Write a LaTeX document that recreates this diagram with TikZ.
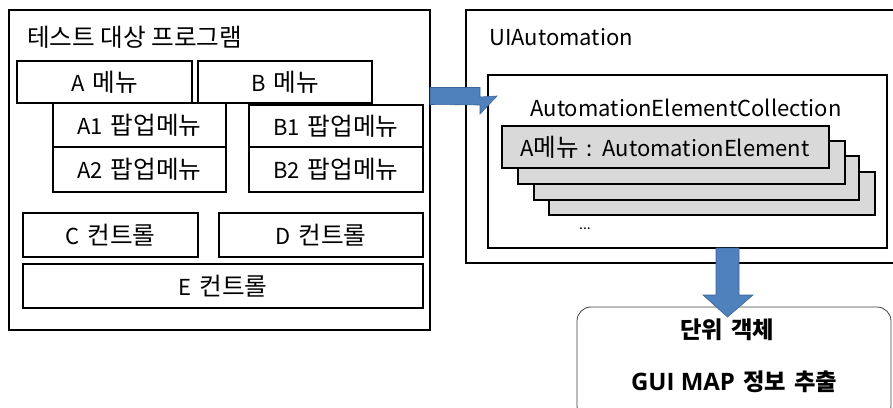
\documentclass[tikz,border=0pt]{standalone}
\usepackage{fontspec}
\setmainfont[WordSpace=1.6]{Noto Sans CJK KR}
\newfontfamily\kr[Scale=1.12]{Noto Sans CJK KR}
\newfontfamily\krb[Scale=1.06,WordSpace=1.5]{Noto Sans CJK KR}
\newfontfamily\latinbold{Open Sans}
\definecolor{arrowfill}{HTML}{4F81BD}
\definecolor{arrowline}{HTML}{3A6496}
\definecolor{stackgray}{HTML}{D9D9D9}
\tikzset{
  box/.style={draw=black, line width=1.6pt, fill=white},
  lbl/.style={font=\fontsize{22}{24}\selectfont, inner sep=0pt},
  bold/.style={font=\fontsize{22}{24}\selectfont\bfseries, inner sep=0pt},
  fatarrow/.style={fill=arrowfill, draw=arrowline, line width=0.6pt, line join=miter}
}
\begin{document}
\begin{tikzpicture}[x=1pt,y=-1pt]
\useasboundingbox (0,0) rectangle (893,407);
% left program box
\draw[box] (9,10) rectangle (430,330);
\coordinate (leftE) at (430,96);
\node[lbl, anchor=west] (title) at (27,37) {\kr 테스트 대상 프로그램};
\draw[box] (17,61) rectangle (192,103); \node[lbl] (amenu) at (104.5,82) {A {\kr 메뉴}};
\draw[box] (198,61) rectangle (372,103); \node[lbl] (bmenu) at (285,82) {B {\kr 메뉴}};
\draw[box] (53,103) rectangle (226,147); \node[lbl] (a1) at (139.5,125) {A1 {\kr 팝업메뉴}};
\draw[box] (53,147) rectangle (226,192); \node[lbl] (a2) at (139.5,169.5) {A2 {\kr 팝업메뉴}};
\draw[box] (249,105) rectangle (423,147); \node[lbl] (b1) at (336,126) {B1 {\kr 팝업메뉴}};
\draw[box] (249,147) rectangle (423,192); \node[lbl] (b2) at (336,169.5) {B2 {\kr 팝업메뉴}};
\draw[box] (23,213) rectangle (198,257); \node[lbl] (c) at (110.5,235) {C {\kr 컨트롤}};
\draw[box] (219,213) rectangle (423,257); \node[lbl] (d) at (321,235) {D {\kr 컨트롤}};
\draw[box] (23,264) rectangle (423,308); \node[lbl] (e) at (223,286) {E {\kr 컨트롤}};
% UIAutomation box
\draw[box] (466,10) rectangle (900,263);
\node[lbl, anchor=west] (uia) at (489,37) {UIAutomation};
\draw[box] (488,75) rectangle (887,248);
\coordinate (innerS) at (727.5,248);
\node[lbl] (coll) at (686,108) {AutomationElementCollection};
\draw[box, fill=stackgray] (549,172) rectangle (875,215);
\draw[box, fill=stackgray] (534,156) rectangle (859,200);
\draw[box, fill=stackgray] (518,141) rectangle (845,184);
\draw[box, fill=stackgray] (502,126) rectangle (829,168);
\node[lbl] (elem) at (665,147) {A{\kr 메뉴} : AutomationElement};
\node[lbl, font=\fontsize{14}{16}\selectfont] (dots) at (585,229) {...};
% result box
\draw[draw=black!75, line width=0.8pt, rounded corners=14pt, fill=white] (577,307) rectangle (891,420);
\node[bold] (unit) at (727,330) {\krb\bfseries 단위 객체};
\node[bold] (gui) at (734,382) {{\fontsize{24}{26}\selectfont\latinbold\bfseries GUI MAP} {\krb\bfseries 정보 추출}};
% arrows
\draw[fatarrow] ([yshift=8.5pt]leftE) -- ++(50,0) -- ++(0,9.5) -- (497,96) -- (480,114) -- (480,105) -- ([yshift=-8.5pt]leftE) -- cycle;
\draw[fatarrow] ([xshift=-11.5pt]innerS) -- ++(0,47) -- (703,295) -- (727.5,317) -- (753,295) -- (739,295) -- ([xshift=11.5pt]innerS) -- cycle;
\end{tikzpicture}
\end{document}
